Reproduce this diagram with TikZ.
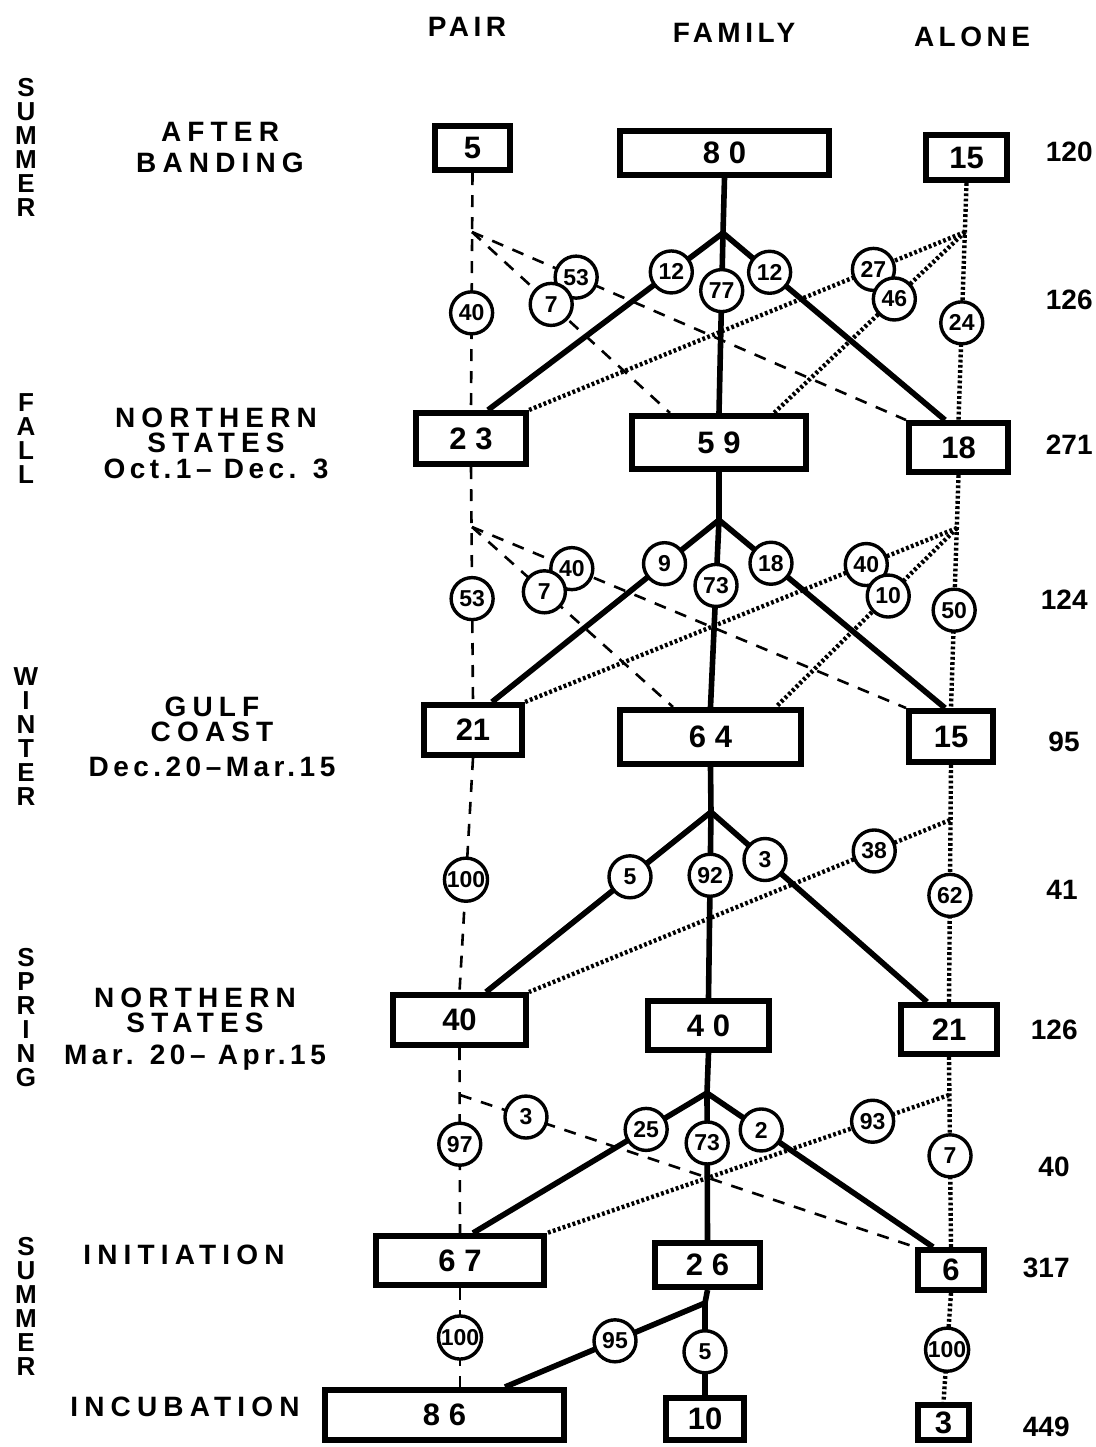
\documentclass[tikz,border=0pt]{standalone}
\usepackage{fontspec}
\setmainfont{Liberation Sans}
\newfontfamily\labelfont[LetterSpace=22]{Liberation Sans}
\newfontfamily\datefont[LetterSpace=16]{Liberation Sans}
\newfontfamily\headfont[LetterSpace=16]{Liberation Sans}
\usetikzlibrary{calc}
\tikzset{
  box/.style={draw, solid, line width=3.2pt, inner sep=0pt, font=\fontsize{15.5}{18}\selectfont\bfseries},
  num/.style={circle, draw, solid, fill=white, line width=1.7pt, minimum size=21pt, inner sep=0.3pt, font=\fontsize{11.5}{12}\selectfont\bfseries},
}

\begin{document}
\begin{tikzpicture}[
  x=0.5pt, y=-0.5pt,
  famline/.style={line width=2.8pt},
  pairline/.style={line width=1.3pt, dash pattern=on 6pt off 5pt},
  aloneline/.style={line width=2.2pt, dash pattern=on 1.4pt off 1.2pt},
  season/.style={align=center, inner sep=0pt, anchor=north, font=\fontsize{13}{12}\selectfont\bfseries},
  place/.style={align=center, inner sep=0pt, font=\fontsize{14}{12.5}\labelfont\bfseries},
  head/.style={inner sep=0pt, font=\fontsize{14}{16}\headfont\bfseries},
  total/.style={inner sep=0pt, anchor=east, font=\fontsize{14}{16}\selectfont\bfseries}
]
\useasboundingbox (0,0) rectangle (1096,1447);

\node[head] (hpair) at (467,27) {PAIR};
\node[head] (hfam) at (734,33) {FAMILY};
\node[head] (halone) at (972,37) {ALONE};

\node[season] (s1) at (26,78) {S\\U\\M\\M\\E\\R};
\node[season] (s2) at (26,393) {F\\A\\L\\L};
\node[season] (s3) at (26,667) {W\\I\\N\\T\\E\\R};
\node[season] (s4) at (26,948) {S\\P\\R\\I\\N\\G};
\node[season] (s5) at (26,1237) {S\\U\\M\\M\\E\\R};

\node[place, anchor=north] (l1) at (220,122) {AFTER\\[3pt]BANDING};
\node[place, anchor=north] (l2) at (216,408) {NORTHERN\\STATES\\[0.5pt]{\datefont\bfseries Oct.1– Dec. 3}};
\node[place, anchor=north] (l3) at (212,697) {GULF\\COAST\\[5pt]{\datefont\bfseries Dec.20–Mar.15}};
\node[place, anchor=north] (l4) at (195,988) {NORTHERN\\STATES\\[3.5pt]{\datefont\bfseries Mar. 20– Apr.15}};
\node[place] (l5) at (184,1255) {INITIATION};
\node[place] (l6) at (185,1407) {INCUBATION};

\node[total] (t1) at (1093,152) {120};
\node[total] (t2) at (1093,300) {126};
\node[total] (t3) at (1093,445) {271};
\node[total] (t4) at (1088,600) {124};
\node[total] (t5) at (1080,742) {95};
\node[total] (t6) at (1078,890) {41};
\node[total] (t7) at (1078,1030) {126};
\node[total] (t8) at (1070,1167) {40};
\node[total] (t9) at (1070,1268) {317};
\node[total] (t10) at (1070,1427) {449};

\node[box, minimum width=37.3pt, minimum height=21.8pt] (pair1) at (472.5,148) {5};
\node[box, minimum width=104.3pt, minimum height=21.8pt] (fam1) at (724.5,153) {8 0};
\node[box, minimum width=40.3pt, minimum height=22.3pt] (alone1) at (966.5,157.5) {15};

\node[box, minimum width=54.8pt, minimum height=25.3pt] (pair2) at (471,438.5) {2 3};
\node[box, minimum width=86.8pt, minimum height=26.3pt] (fam2) at (719,442.5) {5 9};
\node[box, minimum width=49.3pt, minimum height=24.3pt] (alone2) at (958.5,447.5) {18};

\node[box, minimum width=48.8pt, minimum height=24.8pt] (pair3) at (473,730) {21};
\node[box, minimum width=90.3pt, minimum height=26.8pt] (fam3) at (710.5,737) {6 4};
\node[box, minimum width=41.8pt, minimum height=25.3pt] (alone3) at (951,736.5) {15};

\node[box, minimum width=66.3pt, minimum height=24.8pt] (pair4) at (459.5,1020) {40};
\node[box, minimum width=60.3pt, minimum height=24.3pt] (fam4) at (708.5,1025.5) {4 0};
\node[box, minimum width=47.8pt, minimum height=24.3pt] (alone4) at (949,1029.5) {21};

\node[box, minimum width=83.8pt, minimum height=24.3pt] (pair5) at (460,1260.5) {6 7};
\node[box, minimum width=52.3pt, minimum height=21.8pt] (fam5) at (707.5,1265) {2 6};
\node[box, minimum width=32.8pt, minimum height=19.8pt] (alone5) at (951,1270) {6};

\node[box, minimum width=119.3pt, minimum height=24.8pt] (pair6) at (444.5,1415) {8 6};
\node[box, minimum width=38.8pt, minimum height=20.8pt] (fam6) at (705,1419) {10};
\node[box, minimum width=25.3pt, minimum height=17.3pt] (alone6) at (943.5,1422.5) {3};

\coordinate (pj1) at (472,232);
\coordinate (fj1) at (723,233);
\coordinate (aj1) at (965,232);
\coordinate (pj2) at (472,527);
\coordinate (fj2) at (719,520);
\coordinate (aj2) at (957,528);
\coordinate (fj3) at (711,812);
\coordinate (aj3) at (950,820);
\coordinate (pj4) at (460,1095);
\coordinate (fj4) at (707,1093);
\coordinate (aj4) at (949,1095);
\coordinate (fj5) at (705,1303);

\draw[pairline] (pair1.south) -- node[num, pos=.59] {40} (pair2.north);
\draw[pairline] (pj1) -- node[num, pos=.24] {53} (alone2.north west);
\draw[pairline] (pj1) -- node[num, pos=.40] {7} ($(fam2.north west)+(41,0)$);
\draw[famline] (fam1.south) -- (fj1);
\draw[famline] (fj1) -- node[num, pos=.22] {12} ($(pair2.north west)+(75,0)$);
\draw[famline] (fj1) -- node[num, pos=.32] {77} (fam2.north);
\draw[famline] (fj1) -- node[num, pos=.21] {12} ($(alone2.north west)+(39,0)$);
\draw[aloneline] (alone1.south) -- node[num, pos=.59] {24} (alone2.north);
\draw[aloneline] (aj1) -- node[num, pos=.21] {27} (pair2.north east);
\draw[aloneline] (aj1) -- node[num, pos=.37] {46} ($(fam2.north east)+(-35,0)$);

\draw[pairline] (pair2.south) -- node[num, pos=.56] {53} (pair3.north);
\draw[pairline] (pj2) -- node[num, pos=.23] {40} (alone3.north west);
\draw[pairline] (pj2) -- node[num, pos=.36] {7} ($(fam3.north west)+(56,0)$);
\draw[famline] (fam2.south) -- (fj2);
\draw[famline] (fj2) -- node[num, pos=.24] {9} ($(pair3.north west)+(71,0)$);
\draw[famline] (fj2) -- node[num, pos=.35] {73} (fam3.north);
\draw[famline] (fj2) -- node[num, pos=.23] {18} ($(alone3.north west)+(39,0)$);
\draw[aloneline] (alone2.south) -- node[num, pos=.58] {50} (alone3.north);
\draw[aloneline] (aj2) -- node[num, pos=.21] {40} (pair3.north east);
\draw[aloneline] (aj2) -- node[num, pos=.38] {10} ($(fam3.north east)+(-28,0)$);

\draw[pairline] (pair3.south) -- node[num, pos=.52] {100} (pair4.north);
\draw[famline] (fam3.south) -- (fj3);
\draw[famline] (fj3) -- node[num, pos=.36] {5} ($(pair4.north west)+(96,0)$);
\draw[famline] (fj3) -- node[num, pos=.34] {92} (fam4.north);
\draw[famline] (fj3) -- node[num, pos=.25] {3} ($(alone4.north west)+(29,0)$);
\draw[aloneline] (alone3.south) -- node[num, pos=.55] {62} (alone4.north);
\draw[aloneline] (aj3) -- node[num, pos=.18] {38} (pair4.north east);

\draw[pairline] (pair4.south) -- node[num, pos=.52] {97} (pair5.north);
\draw[pairline] (pj4) -- node[num, pos=.145] {3} (alone5.north west);
\draw[famline] (fam4.south) -- (fj4);
\draw[famline] (fj4) -- node[num, pos=.26] {25} ($(pair5.north west)+(100,0)$);
\draw[famline] (fj4) -- node[num, pos=.34] {73} (fam5.north);
\draw[famline] (fj4) -- node[num, pos=.24] {2} ($(alone5.north west)+(18,0)$);
\draw[aloneline] (alone4.south) -- node[num, pos=.52] {7} (alone5.north);
\draw[aloneline] (aj4) -- node[num, pos=.19] {93} (pair5.north east);

\draw[pairline] (pair5.south) -- node[num, pos=.5] {100} (pair5.south |- pair6.north);
\draw[famline] (fam5.south) -- (fj5);
\draw[famline] (fj5) -- node[num, pos=.45] {95} ($(pair6.north west)+(183,0)$);
\draw[famline] (fj5) -- node[num, pos=.53] {5} (fam6.north);
\draw[aloneline] (alone5.south) -- node[num, pos=.52] {100} (alone6.north);

\end{tikzpicture}
\end{document}
